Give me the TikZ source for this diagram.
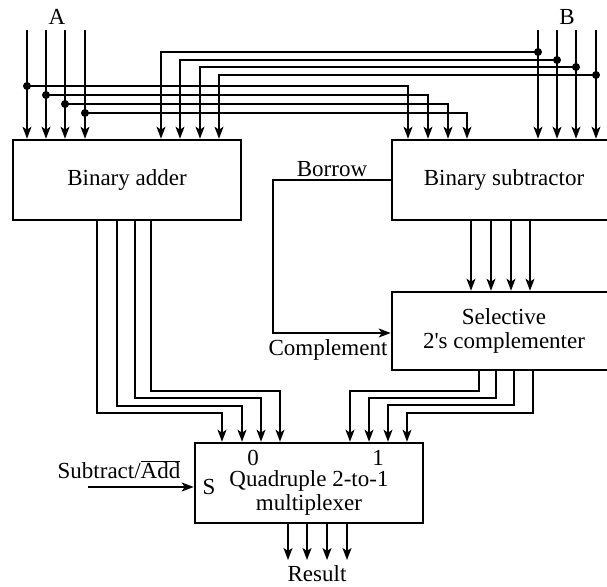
\documentclass[tikz,border=0pt]{standalone}
\usepackage{fontspec}
\setmainfont{Liberation Serif}
\usetikzlibrary{arrows.meta}

\begin{document}
\begin{tikzpicture}[x=1pt,y=-1pt,
  every node/.style={font=\fontsize{23}{24}\selectfont,inner sep=0.5pt},
  blk/.style={draw,line width=2.6pt,minimum width=#1,minimum height=80pt,align=center,inner sep=0pt},
  wire/.style={line width=1.3pt},
  sig/.style={wire,-{Stealth[length=12pt,width=9pt,inset=3pt]}}]
  \useasboundingbox (0,0) rectangle (607,586);
  % blocks
  \node[blk=228pt] (adder) at (127,180) {Binary adder};
  \node[blk=224pt] (sub) at (504,180) {Binary subtractor};
  \node[blk=224pt,minimum height=78pt] (comp) at (504,331) {Selective\\2\textquotesingle s complementer};
  \node[blk=228pt] (mux) at (309,483) {};
  \node[align=center] (muxtxt) at (309,493) {Quadruple 2-to-1\\multiplexer};
  \node (s) at (209,487) {S};
  \node (in0) at (253,458) {0};
  \node (in1) at (378,458) {1};
  \node (A) at (57,17) {A};
  \node (B) at (567,17) {B};
  % A inputs
  \foreach \x/\y/\t [count=\i] in {27/86/408,46/95/428,65/104/448,85/113/467}{
    \coordinate (a\i) at (\x,30);
    \coordinate (ad\i) at (\x,\y);
    \draw[sig] (a\i) -- (a\i |- adder.north);
    \draw[sig] (ad\i) -| (\t,0 |- sub.north);
    \fill (ad\i) circle (4);}
  % B inputs
  \foreach \x/\y/\t [count=\i] in {538/52/161,557/60/180,576/67/200,596/75/219}{
    \coordinate (b\i) at (\x,30);
    \coordinate (bd\i) at (\x,\y);
    \draw[sig] (b\i) -- (b\i |- sub.north);
    \draw[sig] (bd\i) -| (\t,0 |- adder.north);
    \fill (bd\i) circle (4);}
  % sums and differences
  \foreach \x/\y/\t in {97/413/222,117/406/242,135/398/261,151/391/280}
    \draw[sig] (\x,0 |- adder.south) -- (\x,\y) -| (\t,0 |- mux.north);
  \foreach \x in {471,491,511,530}
    \draw[sig] (\x,0 |- sub.south) -- (\x,0 |- comp.north);
  \foreach \x/\y/\t in {479/391/350,496/398/369,514/405/388,533/413/407}
    \draw[sig] (\x,0 |- comp.south) -- (\x,\y) -| (\t,0 |- mux.north);
  % borrow
  \coordinate (brw) at (273,180);
  \draw[sig] (sub.west) -- (brw) |- (comp.west |- 0,333);
  \node (borrow) at (332,169) {Borrow};
  \node (cmpl) at (328,350) {Complement};
  % select
  \coordinate (sel) at (88,487);
  \draw[sig] (sel) -- (sel -| mux.west);
  \node (subadd) at (119,470) {Subtract/$\overline{\hbox{Add}}$};
  % result
  \foreach \x in {288,307,327,347}
    \draw[sig] (\x,0 |- mux.south) -- (\x,560);
  \node (res) at (317,574) {Result};
\end{tikzpicture}
\end{document}
